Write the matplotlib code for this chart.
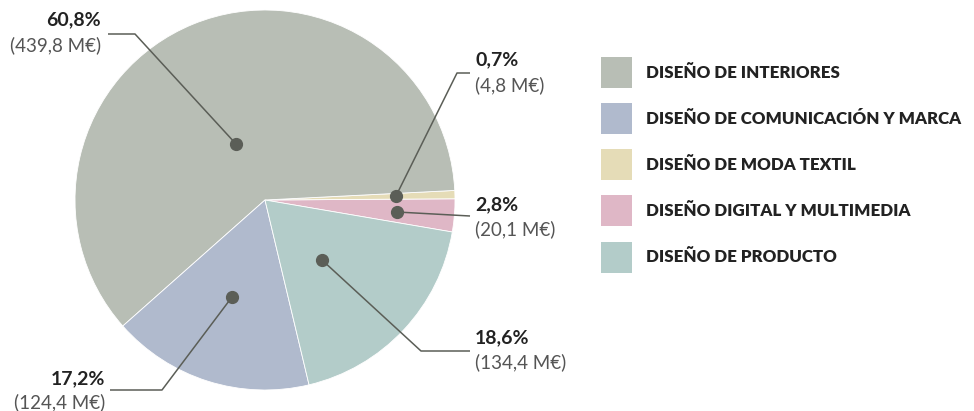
import matplotlib
matplotlib.use("Agg")
import matplotlib.pyplot as plt
from matplotlib.patches import Rectangle

# Data (legend order)
categories = ["DISEÑO DE INTERIORES", "DISEÑO DE COMUNICACIÓN Y MARCA",
              "DISEÑO DE MODA TEXTIL", "DISEÑO DIGITAL Y MULTIMEDIA",
              "DISEÑO DE PRODUCTO"]
percents = [60.8, 17.2, 0.7, 2.8, 18.6]
amounts = [439.8, 124.4, 4.8, 20.1, 134.4]
colors = ["#b8beb5", "#b0bacd", "#e5dcb7", "#dfb7c6", "#b3ccc9"]

# Pie drawing order (counter-clockwise from start angle)
pie_order = [3, 2, 0, 1, 4]

W, H = 974, 411
fig = plt.figure(figsize=(W / 100, H / 100), dpi=100)
ax = fig.add_axes([0, 0, 1, 1])

cx, cy, r = 265, H - 200, 190
ax.pie([percents[i] for i in pie_order], colors=[colors[i] for i in pie_order],
       startangle=-9.7, counterclock=True, center=(cx, cy), radius=r,
       wedgeprops=dict(edgecolor="white", linewidth=0.6), frame=False)
ax.set_xlim(0, W)
ax.set_ylim(0, H)
ax.set_aspect("auto")
ax.axis("off")

FONT = "Lato"
dot_c = "#5b5e57"
line_c = "#5b5e57"

def fmt_pct(p):
    return f"{p:.1f}".replace(".", ",") + "%"

def fmt_amt(a):
    return "(" + f"{a:.1f}".replace(".", ",") + " M€)"

# annotations: dot (px), path points (px), label anchor x, ha, pct y, amt y
ann = {
    0: dict(dot=(236, 144), path=[(135, 34), (108, 34)], x=101, ha="right", y1=20, y2=45),
    2: dict(dot=(396, 196), path=[(457, 73), (470, 73)], x=475, ha="left", y1=60, y2=85),
    3: dict(dot=(397, 212), path=[(470, 216)], x=475, ha="left", y1=205, y2=229),
    4: dict(dot=(322, 260), path=[(421, 351), (470, 351)], x=475, ha="left", y1=338, y2=362),
    1: dict(dot=(232, 297), path=[(162, 390), (110, 390)], x=105, ha="right", y1=379, y2=402),
}

for i, a in ann.items():
    pts = [a["dot"]] + a["path"]
    xs = [p[0] for p in pts]
    ys = [H - p[1] for p in pts]
    ax.plot(xs, ys, color=line_c, lw=1.1, solid_capstyle="butt", zorder=3)
    ax.plot([a["dot"][0]], [H - a["dot"][1]], "o", color=dot_c, ms=8.5, zorder=4)
    ax.text(a["x"], H - a["y1"], fmt_pct(percents[i]), ha=a["ha"], va="center",
            fontsize=14, fontweight="bold", family=FONT, color="#222222")
    ax.text(a["x"], H - a["y2"], fmt_amt(amounts[i]), ha=a["ha"], va="center",
            fontsize=13.5, fontweight="normal", family=FONT, color="#555555")

# Legend
leg_y = [73, 119, 165, 211, 257]
for i, cat in enumerate(categories):
    yc = H - leg_y[i]
    ax.add_patch(Rectangle((601, yc - 15.5), 31, 31, facecolor=colors[i],
                           edgecolor="none"))
    ax.text(646, yc, cat, ha="left", va="center", fontsize=12.2, fontweight="heavy",
            family=FONT, color="#222222")

fig.savefig("out.png", dpi=100)
